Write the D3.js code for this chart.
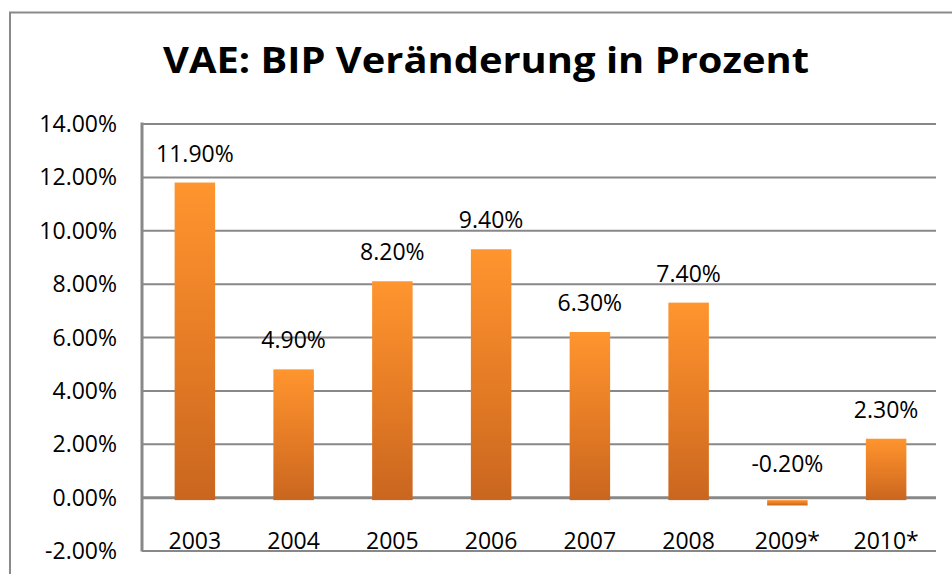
<!DOCTYPE html>
<html>
<head>
<meta charset="utf-8">
<script src="https://cdn.jsdelivr.net/npm/d3@7"></script>
<style>
  body { margin: 0; background: #fff; }
  text { font-family: "Open Sans", sans-serif; fill: #000; }
</style>
</head>
<body>
<script>
// chart data
var years = ["2003", "2004", "2005", "2006", "2007", "2008", "2009*", "2010*"];
var growth = [11.9, 4.9, 8.2, 9.4, 6.3, 7.4, -0.2, 2.3];
var yTicks = [-2, 0, 2, 4, 6, 8, 10, 12, 14];
var titleText = "VAE: BIP Veränderung in Prozent";

var w = 952, h = 574;
var plot = { left: 142, right: 936, top: 123.5, bottom: 550.5 };

// plain hyphen for negatives, like the original
var pct = d3.formatLocale({ decimal: ".", thousands: ",", grouping: [3], currency: ["", ""], minus: "-" })
    .format(".2f");
function fmt(d){ return pct(d) + "%"; }

var svg = d3.select("body").append("svg")
    .attr("width", w)
    .attr("height", h);

// gradient for the bars
var grad = svg.append("defs").append("linearGradient")
    .attr("id", "barGrad")
    .attr("x1", 0).attr("y1", 0).attr("x2", 0).attr("y2", 1);
grad.append("stop").attr("offset", "0%").attr("stop-color", "#ff952e");
grad.append("stop").attr("offset", "55%").attr("stop-color", "#e47b25");
grad.append("stop").attr("offset", "100%").attr("stop-color", "#c9661f");

// outer chart border
svg.append("rect")
    .attr("x", 10).attr("y", 12.5)
    .attr("width", 1000).attr("height", 1000)
    .style("fill", "none")
    .style("stroke", "#8a8a8a")
    .style("stroke-width", 2);

// title
svg.append("text")
    .attr("x", 486)
    .attr("y", 73)
    .attr("text-anchor", "middle")
    .attr("textLength", 646)
    .attr("lengthAdjust", "spacingAndGlyphs")
    .style("font-size", "36px")
    .style("font-weight", "bold")
    .text(titleText);

var x = d3.scaleBand()
    .domain(years)
    .range([plot.left + 3, plot.right])
    .paddingInner(0.59)
    .paddingOuter(0.3);

var y = d3.scaleLinear()
    .domain([-2, 14])
    .range([plot.bottom, plot.top]);

// gridlines
var grid = svg.append("g")
    .attr("class", "grid")
    .attr("transform", "translate(" + plot.left + ",0)")
    .call(d3.axisLeft(y).tickValues(yTicks).tickSize(-(plot.right - plot.left)).tickFormat(""));
grid.select(".domain").remove();
grid.selectAll("line")
    .style("stroke", "#888")
    .style("stroke-width", function(d){ return d === 0 ? 3 : 2; });

// left edge of plot area
svg.append("line")
    .attr("x1", plot.left).attr("x2", plot.left)
    .attr("y1", plot.top - 1).attr("y2", plot.bottom + 1)
    .style("stroke", "#888")
    .style("stroke-width", 3);

// y tick labels
var yAxis = svg.append("g")
    .attr("class", "axis")
    .attr("transform", "translate(117,0)")
    .call(d3.axisLeft(y).tickValues(yTicks).tickSize(0).tickPadding(0).tickFormat(fmt));
yAxis.select(".domain").remove();
yAxis.selectAll("text")
    .attr("dy", 8)
    .style("font-size", "23px")
    .style("font-family", "'Open Sans', sans-serif")
    .style("fill", "#000");

// bars (slightly offset downwards like the original)
var bars = svg.append("g")
    .attr("transform", "translate(0,3)")
    .selectAll(".bar")
    .data(growth)
    .enter()
    .append("rect")
    .attr("class", "bar")
    .attr("x", function(d, i){ return x(years[i]); })
    .attr("width", x.bandwidth())
    .attr("y", function(d){ return y(Math.max(d, 0)); })
    .attr("height", function(d){ return Math.abs(y(d) - y(0)); })
    .style("fill", "url(#barGrad)");

// value labels
svg.selectAll(".vlabel")
    .data(growth)
    .enter()
    .append("text")
    .attr("class", "vlabel")
    .attr("text-anchor", "middle")
    .attr("x", function(d, i){ return x(years[i]) + x.bandwidth() / 2; })
    .attr("y", function(d){ return d < 0 ? y(0) - 25 : y(d) - 18; })
    .style("font-size", "23px")
    .text(fmt);

// category labels
svg.selectAll(".xlabel")
    .data(years)
    .enter()
    .append("text")
    .attr("class", "xlabel")
    .attr("text-anchor", "middle")
    .attr("x", function(d){ return x(d) + x.bandwidth() / 2; })
    .attr("y", 549)
    .style("font-size", "23px")
    .text(function(d){ return d; });
</script>
</body>
</html>
